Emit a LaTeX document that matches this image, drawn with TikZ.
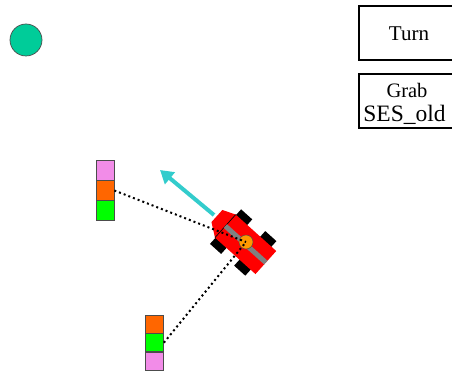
\documentclass[tikz,border=0pt]{standalone}
\usepackage{fontspec}
\setmainfont{Liberation Serif}
\usetikzlibrary{arrows.meta, positioning}
\definecolor{ballgreen}{RGB}{0,204,153}
\definecolor{markpink}{RGB}{242,140,232}
\definecolor{markorange}{RGB}{255,102,0}
\definecolor{markgreen}{RGB}{0,255,0}
\definecolor{huborange}{RGB}{255,153,0}
\definecolor{headteal}{RGB}{51,204,204}

\begin{document}
\begin{tikzpicture}[
						x=1pt, y=-1pt,
						node distance={0pt},
						block/.style = {draw=black!70, line width=0.7pt, rectangle, inner sep=0pt, minimum width=18pt, minimum height=19.3pt},
						low block/.style = {block, minimum height=18pt},
						label box/.style = {draw, line width=1.3pt, rectangle, inner sep=0pt, minimum width=100pt, minimum height=54pt, align=center},
						wheel/.style = {fill=black, rectangle, inner sep=0pt, minimum width=15pt, minimum height=11pt},
						sight/.style = {line width=2pt, dash pattern=on 2pt off 3pt}
					]
\useasboundingbox (0,0) rectangle (452,371);

% ball and the two state boxes
\node[draw=black!70, line width=0.7pt, fill=ballgreen, circle, inner sep=0pt, minimum size=32pt] (ball) at (26,40) {};
\node[label box] (turn) at (409,33) {};
\node (turntext) at (409,34) [font=\fontsize{21}{25}\selectfont, inner sep=0pt] {Turn};
\node[label box] (grab) at (409,101) {};
\node (grabtext) at (407,90) [font=\fontsize{20.5}{25}\selectfont, inner sep=0pt] {Grab};
\node (sestext) at (404.5,115) [font=\fontsize{23.5}{25}\selectfont, inner sep=0pt] {SES\_old};

% landmarks
\node[block, fill=markpink] (pink1) at (105,170.5) {};
\node[block, fill=markorange] (orange1) [below=of pink1] {};
\node[block, fill=markgreen] (green1) [below=of orange1] {};
\node[low block, fill=markorange] (orange2) at (154.5,324) {};
\node[low block, fill=markgreen] (green2) [below=of orange2] {};
\node[low block, fill=markpink] (pink2) [below=of green2] {};

% robot, drawn along its own axis
\begin{scope}[shift={(246,242)}, rotate=-42, transform shape]
\node[wheel] (wheel1) at (-18,-15.5) {};
\node[wheel] (wheel2) at (14.5,-15.5) {};
\node[wheel] (wheel3) at (-18,20) {};
\node[wheel] (wheel4) at (14.5,20) {};
\fill[red] (-26,-13.5) -- (-39,-8) -- (-39,8.3) -- (-26,17.5) -- cycle;
\fill[red] (-26,-13.5) rectangle (28.5,17.5);
\draw[black, line width=0.7pt] (-26,-13.5) -- (-26,17.5);
\fill[black!50] (-26,-0.5) rectangle (28.5,4.5);
\node[draw=black!70, line width=0.5pt, fill=huborange, circle, inner sep=0pt, minimum size=14pt] (hub) at (0,0) {};
\end{scope}

% heading arrow and bearings
\coordinate (tail) at (214,215);
\coordinate (heading) at (160,170);
\draw[headteal, line width=4pt, -{Triangle[length=13pt, width=15pt]}] (tail) -- (heading);
\draw[sight] (orange1.east) -- (hub.center);
\draw[sight] (green2.east) -- (hub.center);
\end{tikzpicture}
\end{document}
